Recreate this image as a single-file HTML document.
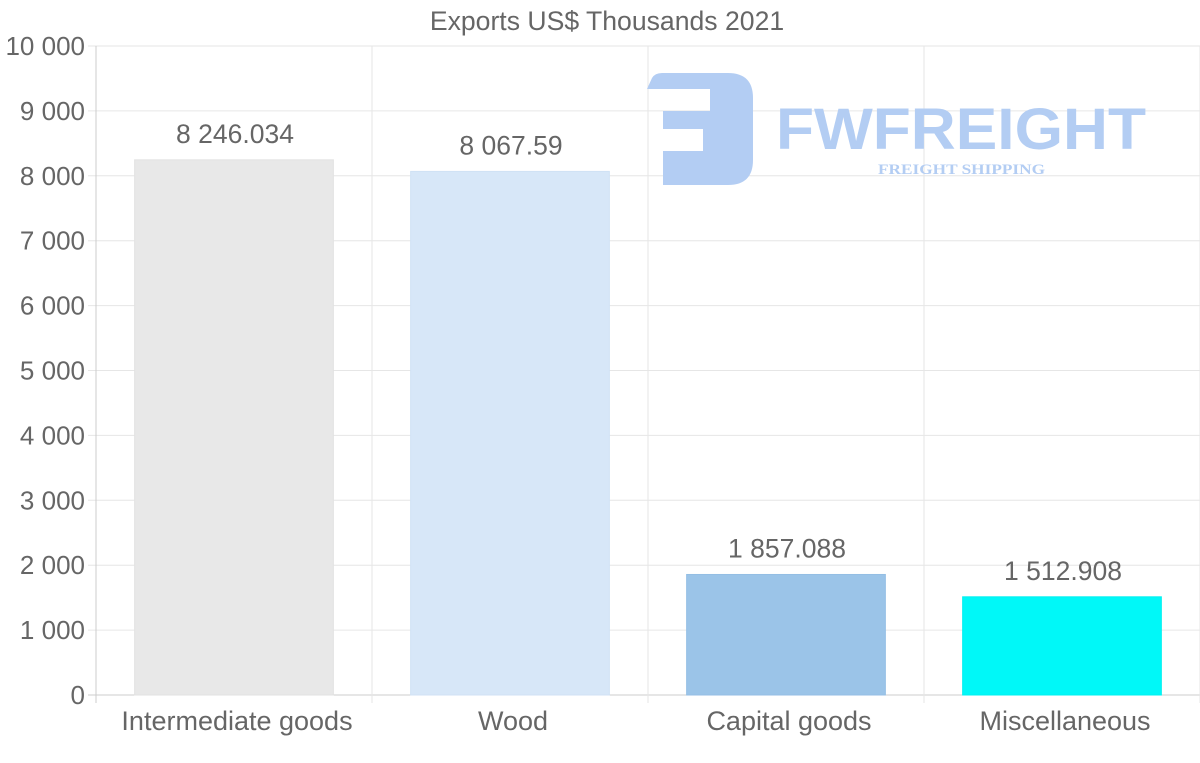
<!DOCTYPE html>
<html><head><meta charset="utf-8"><style>
html,body{margin:0;padding:0;background:#fff;width:1200px;height:763px;overflow:hidden}
svg{display:block;font-family:"Liberation Sans",Arial,sans-serif}
</style></head><body>
<svg id="chart" width="1200" height="763" viewBox="0 0 1200 763">
<text x="607" y="30" text-anchor="middle" font-size="26.6" fill="#666">Exports US$ Thousands 2021</text>
<g id="grid"></g>
<g id="watermark">
<path d="M647 89 L652 78 Q655 73 662 73 H728 Q753 73 753 98 V160 Q753 185 728 185 H663 V151 H703 V129 H663 V111 H710 V89 Z" fill="#b3cdf3"/>
<text x="776" y="149" font-size="58" font-weight="bold" fill="#b3cdf3" textLength="370" lengthAdjust="spacingAndGlyphs">FWFREIGHT</text>
<text x="878" y="174" font-size="15" font-weight="bold" font-family="Liberation Serif,serif" fill="#b3cdf3" textLength="167" lengthAdjust="spacingAndGlyphs">FREIGHT SHIPPING</text>
</g>
<g id="bars"></g>
</svg>
<script>
const categories=["Intermediate goods","Wood","Capital goods","Miscellaneous"];
const values=[8246.034,8067.59,1857.088,1512.908];
const valueLabels=["8 246.034","8 067.59","1 857.088","1 512.908"];
const yTicks=[0,1000,2000,3000,4000,5000,6000,7000,8000,9000,10000];
const yTickLabels=["0","1 000","2 000","3 000","4 000","5 000","6 000","7 000","8 000","9 000","10 000"];
const barColors=["#e8e8e8","#d7e7f8","#9bc4e8","#00f8f8"];
const barBorders=["#e2e2e2","#d0e2f5","#94bee4","#00f0f0"];
const L=96,R=1200,T=46,B=695,yMax=10000;
const y=v=>B-(v/yMax)*(B-T);
const bw=(R-L)/categories.length;
const x=i=>L+i*bw;
const NS="http://www.w3.org/2000/svg";
function mk(tag,attrs,parent,text){const e=document.createElementNS(NS,tag);for(const k in attrs)e.setAttribute(k,attrs[k]);if(text!==undefined)e.textContent=text;parent.appendChild(e);return e;}
const g=document.getElementById('grid'),bg=document.getElementById('bars');
yTicks.forEach((t,i)=>{
 const ln=mk('line',{x1:88,x2:R,y1:y(t),y2:y(t),stroke:i===0?'#ccc':'#e6e6e6','stroke-width':1},g);
 
 
 const tx=mk('text',{x:85,y:y(t)+9,'text-anchor':'end','font-size':26,fill:'#666'},g,yTickLabels[i]);
 
 
});
for(let i=0;i<=categories.length;i++){
 const ln=mk('line',{x1:x(i),x2:x(i),y1:T,y2:703,stroke:i===0?'#ccc':'#e6e6e6','stroke-width':1},g);
 
 
}
categories.forEach((c,i)=>{
 const w=bw*0.72,bx=x(i)+(bw-w)/2;
 const r=mk('rect',{x:bx,y:y(values[i]),width:w,height:B-y(values[i]),fill:barColors[i],stroke:barBorders[i],'stroke-width':1},bg);
 
 
 const vl=mk('text',{x:x(i)+bw/2+1,y:y(values[i])-17,'text-anchor':'middle','font-size':26.5,fill:'#666'},bg,valueLabels[i]);
 
 
 const xl=mk('text',{x:x(i)+bw/2+3,y:730,'text-anchor':'middle','font-size':27,fill:'#666'},bg,c);
 
 
});
</script>
</body></html>
